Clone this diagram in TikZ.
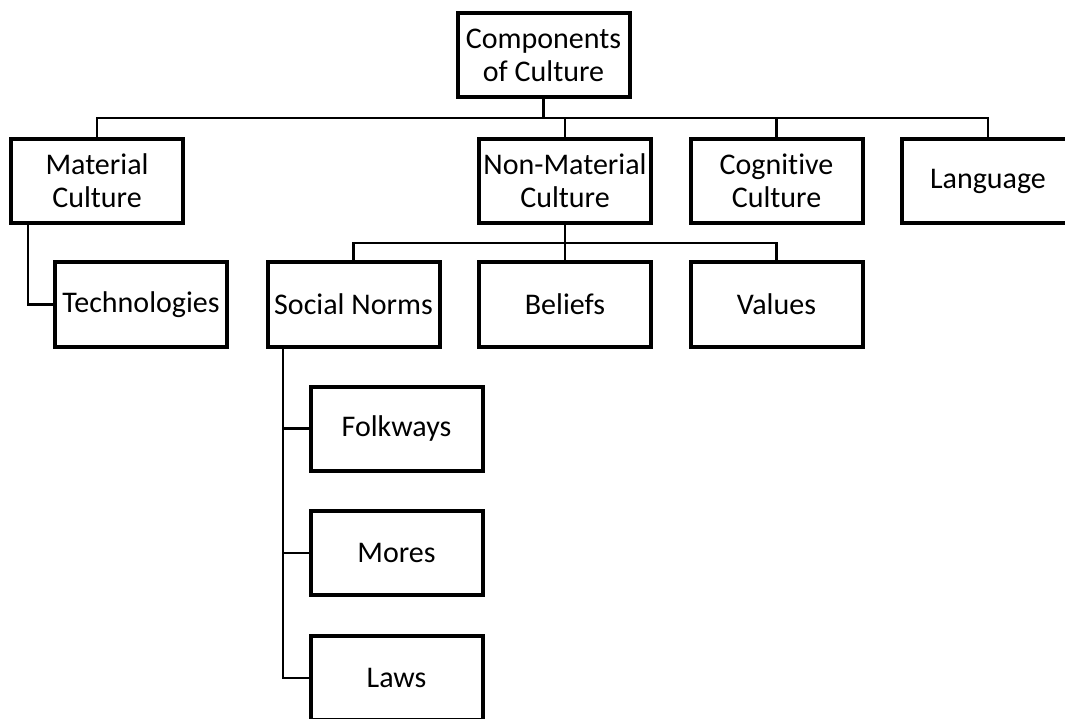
\documentclass[tikz,border=0pt]{standalone}
\usepackage{fontspec}
\setmainfont{Carlito}[RawFeature=-liga]
\usetikzlibrary{backgrounds}
\begin{document}
\begin{tikzpicture}[x=1pt,y=-1pt,
  box/.style={draw=black,line width=4pt,fill=white,minimum width=172pt,minimum height=84pt,
    align=center,inner sep=0pt,font=\fontsize{30}{33}\selectfont},
  conn/.style={draw=black,line width=2.5pt}]
\useasboundingbox (0,0) rectangle (1065,719);
\clip (0,0) rectangle (1065,719);
% nodes
\node[box] (top) at (543.5,55.5) {Components\\of Culture};
\node[box] (mat) at (97,181) {Material\\Culture};
\node[box] (nonmat) at (565,181) {Non-Material\\Culture};
\node[box] (cog) at (776.5,181) {Cognitive\\Culture};
\node[box] (lang) at (988,181) {Language};
\node[box] (tech) at (141,304.5) {Technologies};
\node[box] (social) at (353.5,304.5) {Social Norms};
\node[box] (beliefs) at (565,304.5) {Beliefs};
\node[box] (values) at (776.5,304.5) {Values};
\node[box] (folk) at (396.5,428.5) {Folkways};
\node[box] (mores) at (396.5,553) {Mores};
\node[box] (laws) at (396.5,678) {Laws};
% buses
\coordinate (bus1) at (543.5,118);
\coordinate (bus2) at (565,243);
\coordinate (ms) at ([xshift=-69pt]mat.south);
\coordinate (ss) at ([xshift=-70.5pt]social.south);
\begin{scope}[on background layer]
\draw[conn] (top.south) -- (bus1);
\draw[conn] (mat.north) -- (mat.north |- bus1) -- (lang.north |- bus1) -- (lang.north);
\draw[conn] (nonmat.north) -- (nonmat.north |- bus1);
\draw[conn] (cog.north) -- (cog.north |- bus1);
\draw[conn] (nonmat.south) -- (bus2);
\draw[conn] (social.north) -- (social.north |- bus2) -- (values.north |- bus2) -- (values.north);
\draw[conn] (beliefs.north) -- (beliefs.north |- bus2);
\draw[conn] (ms) |- (tech.west);
\draw[conn] (ss) |- (laws.west);
\draw[conn] (folk.west) -- (folk.west -| ss);
\draw[conn] (mores.west) -- (mores.west -| ss);
\end{scope}
\end{tikzpicture}
\end{document}
